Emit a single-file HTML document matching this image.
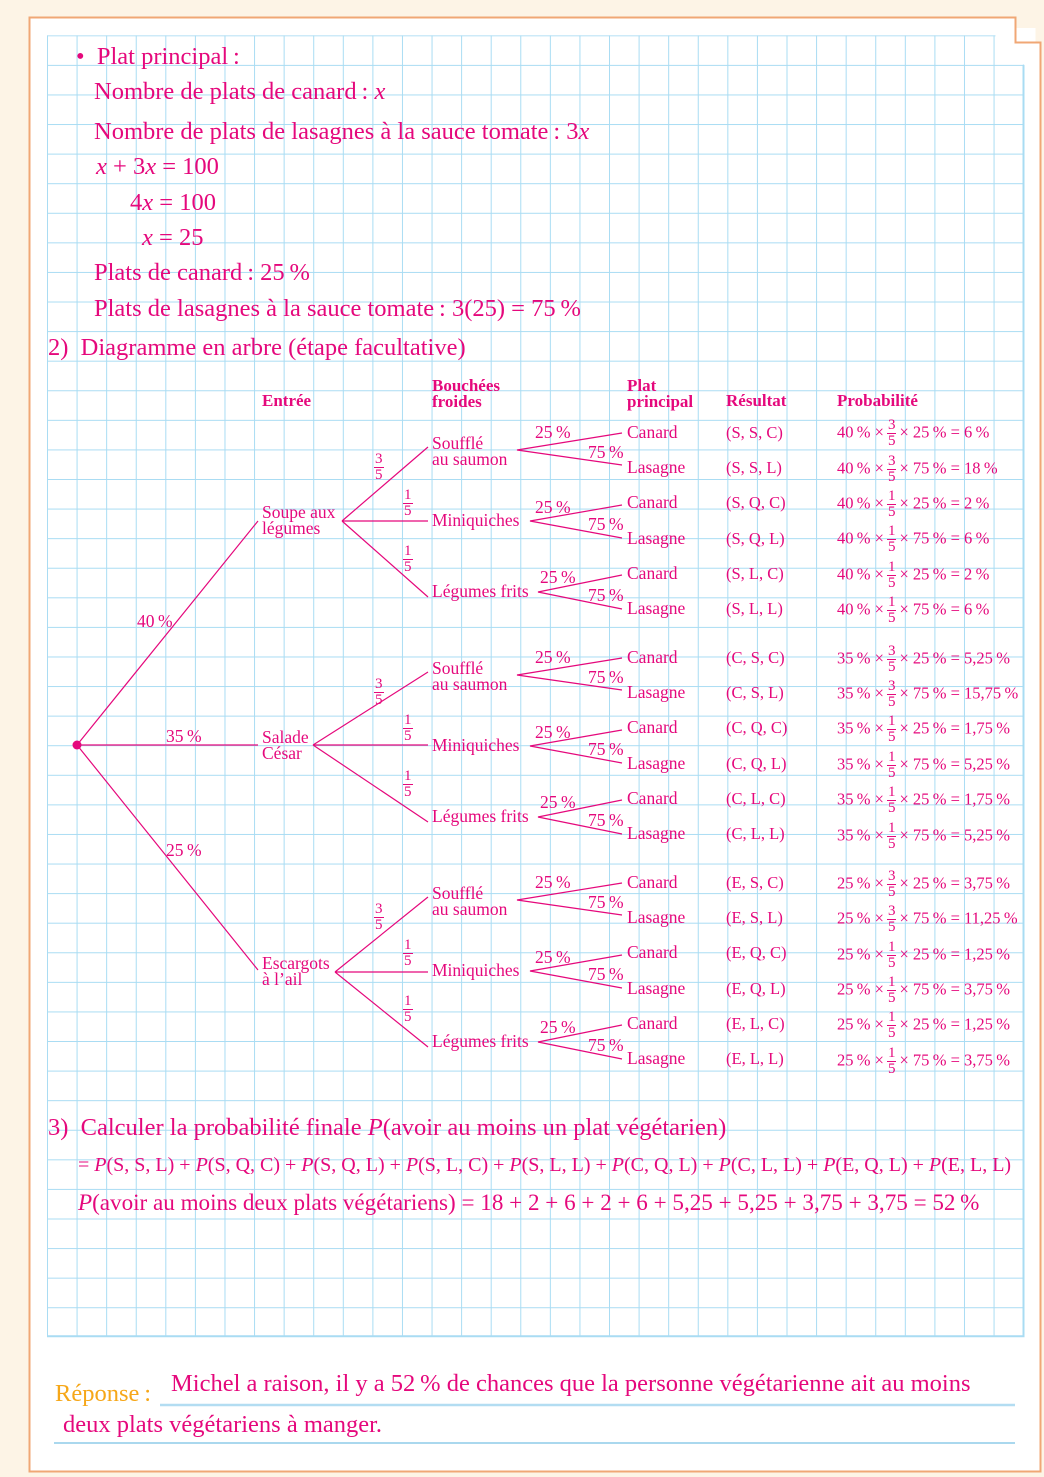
<!DOCTYPE html>
<html><head><meta charset="utf-8"><style>
body{margin:0;width:1044px;height:1477px;background:#fdf4e6;position:relative;overflow:hidden;font-family:"Liberation Serif",serif;color:#e5087c}
.t{position:absolute;white-space:nowrap;line-height:1}
.b{font-size:24.5px}
.s{font-size:17.5px}
.h{font-size:17px;font-weight:bold;line-height:16px}
.p{font-size:16.5px}
i{font-style:italic}
.f{display:inline-block;vertical-align:middle;text-align:center;font-size:15px;line-height:15px;margin:0 3px}
.f span{display:block;padding:0 1px;font-size:15px}
.f span:first-child{border-bottom:1px solid #e5087c}
</style></head><body>
<svg width="1044" height="1477" style="position:absolute;left:0;top:0">
<defs><pattern id="g" x="47" y="35.3" width="29.58" height="29.58" patternUnits="userSpaceOnUse"><path d="M0 0H29.58M0 0V29.58" stroke="#a9dcf3" stroke-width="2" fill="none"/></pattern></defs>
<path d="M29.5 17.5H1015.5V42.5H1040.5V1471.5H29.5Z" fill="#fff"/>
<rect x="47" y="35.3" width="976.5" height="1301" fill="url(#g)"/>
<rect x="995.5" y="28" width="40" height="36" fill="#fff"/>
<path d="M29.5 17.5H1015.5V42.5H1040.5V1471.5H29.5Z" fill="none" stroke="#f0a775" stroke-width="2"/>
<path d="M1023.5 64.9V1336.3H47" stroke="#a9dcf3" stroke-width="2" fill="none"/>
<line x1="160" y1="1405" x2="1015" y2="1405" stroke="#b3ddf2" stroke-width="2.5"/>
<line x1="54" y1="1443" x2="1015" y2="1443" stroke="#8ecbe9" stroke-width="1.5"/>
<g stroke="#e5087c" stroke-width="1.2" fill="none">
<path d="M77 745L258 521M77 745H258M77 745L258 970"/>
<path d="M342 521L428 447M342 521H428M342 521L428 597"/>
<path d="M313 745L428 672M313 745H428M313 745L428 822"/>
<path d="M335 972L428 897M335 972H428M335 972L428 1047"/>
<g id="l3">
<path d="M622 433L517 450L622 465M622 505L530 521L622 538M622 575L538 592L622 609"/>
</g>
<use href="#l3" y="225"/><use href="#l3" y="450"/>
</g>
<circle cx="77" cy="745" r="4.5" fill="#e5087c"/>
</svg>

<div class="t b" style="left:76px;top:45px">•&nbsp;&nbsp;Plat principal&#8239;:</div>
<div class="t b" style="left:94px;top:80px">Nombre de plats de canard&#8239;: <i>x</i></div>
<div class="t b" style="left:94px;top:120px">Nombre de plats de lasagnes à la sauce tomate&#8239;: 3<i>x</i></div>
<div class="t b" style="left:96px;top:155px"><i>x</i> + 3<i>x</i> = 100</div>
<div class="t b" style="left:130px;top:191px">4<i>x</i> = 100</div>
<div class="t b" style="left:142px;top:226px"><i>x</i> = 25</div>
<div class="t b" style="left:94px;top:261px">Plats de canard&#8239;: 25&#8239;%</div>
<div class="t b" style="left:94px;top:297px">Plats de lasagnes à la sauce tomate&#8239;: 3(25) = 75&#8239;%</div>
<div class="t b" style="left:48px;top:336px">2)&nbsp; Diagramme en arbre (étape facultative)</div>

<div class="t h" style="left:262px;top:393px">Entrée</div>
<div class="t h" style="left:432px;top:378px">Bouchées<br>froides</div>
<div class="t h" style="left:627px;top:378px">Plat<br>principal</div>
<div class="t h" style="left:726px;top:393px">Résultat</div>
<div class="t h" style="left:837px;top:393px">Probabilité</div>

<div class="t s" style="left:137px;top:613px">40&#8239;%</div>
<div class="t s" style="left:166px;top:728px">35&#8239;%</div>
<div class="t s" style="left:166px;top:842px">25&#8239;%</div>
<div class="t s" style="left:262px;top:504px;line-height:16px">Soupe aux<br>légumes</div>
<div class="t s" style="left:262px;top:729px;line-height:16px">Salade<br>César</div>
<div class="t s" style="left:262px;top:955px;line-height:16px">Escargots<br>à l’ail</div>

<div style="position:absolute;left:0;top:0">
<div class="t s" style="left:432px;top:435px;line-height:16px">Soufflé<br>au saumon</div>
<div class="t s" style="left:432px;top:512px">Miniquiches</div>
<div class="t s" style="left:432px;top:583px">Légumes frits</div>
<div class="t" style="left:371px;top:452px"><span class="f"><span>3</span><span>5</span></span></div>
<div class="t" style="left:400px;top:488px"><span class="f"><span>1</span><span>5</span></span></div>
<div class="t" style="left:400px;top:544px"><span class="f"><span>1</span><span>5</span></span></div>
<div class="t s" style="left:535px;top:424px">25&#8239;%</div><div class="t s" style="left:588px;top:444px">75&#8239;%</div>
<div class="t s" style="left:535px;top:499px">25&#8239;%</div><div class="t s" style="left:588px;top:516px">75&#8239;%</div>
<div class="t s" style="left:540px;top:569px">25&#8239;%</div><div class="t s" style="left:588px;top:587px">75&#8239;%</div>
<div class="t s" style="left:627px;top:424px">Canard</div><div class="t s" style="left:627px;top:459px">Lasagne</div>
<div class="t s" style="left:627px;top:494px">Canard</div><div class="t s" style="left:627px;top:530px">Lasagne</div>
<div class="t s" style="left:627px;top:565px">Canard</div><div class="t s" style="left:627px;top:600px">Lasagne</div>
</div>
<div style="position:absolute;left:0;top:225px">
<div class="t s" style="left:432px;top:435px;line-height:16px">Soufflé<br>au saumon</div>
<div class="t s" style="left:432px;top:512px">Miniquiches</div>
<div class="t s" style="left:432px;top:583px">Légumes frits</div>
<div class="t" style="left:371px;top:452px"><span class="f"><span>3</span><span>5</span></span></div>
<div class="t" style="left:400px;top:488px"><span class="f"><span>1</span><span>5</span></span></div>
<div class="t" style="left:400px;top:544px"><span class="f"><span>1</span><span>5</span></span></div>
<div class="t s" style="left:535px;top:424px">25&#8239;%</div><div class="t s" style="left:588px;top:444px">75&#8239;%</div>
<div class="t s" style="left:535px;top:499px">25&#8239;%</div><div class="t s" style="left:588px;top:516px">75&#8239;%</div>
<div class="t s" style="left:540px;top:569px">25&#8239;%</div><div class="t s" style="left:588px;top:587px">75&#8239;%</div>
<div class="t s" style="left:627px;top:424px">Canard</div><div class="t s" style="left:627px;top:459px">Lasagne</div>
<div class="t s" style="left:627px;top:494px">Canard</div><div class="t s" style="left:627px;top:530px">Lasagne</div>
<div class="t s" style="left:627px;top:565px">Canard</div><div class="t s" style="left:627px;top:600px">Lasagne</div>
</div>
<div style="position:absolute;left:0;top:450px">
<div class="t s" style="left:432px;top:435px;line-height:16px">Soufflé<br>au saumon</div>
<div class="t s" style="left:432px;top:512px">Miniquiches</div>
<div class="t s" style="left:432px;top:583px">Légumes frits</div>
<div class="t" style="left:371px;top:452px"><span class="f"><span>3</span><span>5</span></span></div>
<div class="t" style="left:400px;top:488px"><span class="f"><span>1</span><span>5</span></span></div>
<div class="t" style="left:400px;top:544px"><span class="f"><span>1</span><span>5</span></span></div>
<div class="t s" style="left:535px;top:424px">25&#8239;%</div><div class="t s" style="left:588px;top:444px">75&#8239;%</div>
<div class="t s" style="left:535px;top:499px">25&#8239;%</div><div class="t s" style="left:588px;top:516px">75&#8239;%</div>
<div class="t s" style="left:540px;top:569px">25&#8239;%</div><div class="t s" style="left:588px;top:587px">75&#8239;%</div>
<div class="t s" style="left:627px;top:424px">Canard</div><div class="t s" style="left:627px;top:459px">Lasagne</div>
<div class="t s" style="left:627px;top:494px">Canard</div><div class="t s" style="left:627px;top:530px">Lasagne</div>
<div class="t s" style="left:627px;top:565px">Canard</div><div class="t s" style="left:627px;top:600px">Lasagne</div>
</div>

<div class="t p" style="left:726px;top:425px">(S, S, C)</div>
<div class="t p" style="left:726px;top:460px">(S, S, L)</div>
<div class="t p" style="left:726px;top:495px">(S, Q, C)</div>
<div class="t p" style="left:726px;top:531px">(S, Q, L)</div>
<div class="t p" style="left:726px;top:566px">(S, L, C)</div>
<div class="t p" style="left:726px;top:601px">(S, L, L)</div>
<div class="t p" style="left:726px;top:650px">(C, S, C)</div>
<div class="t p" style="left:726px;top:685px">(C, S, L)</div>
<div class="t p" style="left:726px;top:720px">(C, Q, C)</div>
<div class="t p" style="left:726px;top:756px">(C, Q, L)</div>
<div class="t p" style="left:726px;top:791px">(C, L, C)</div>
<div class="t p" style="left:726px;top:826px">(C, L, L)</div>
<div class="t p" style="left:726px;top:875px">(E, S, C)</div>
<div class="t p" style="left:726px;top:910px">(E, S, L)</div>
<div class="t p" style="left:726px;top:945px">(E, Q, C)</div>
<div class="t p" style="left:726px;top:981px">(E, Q, L)</div>
<div class="t p" style="left:726px;top:1016px">(E, L, C)</div>
<div class="t p" style="left:726px;top:1051px">(E, L, L)</div>

<div class="t p" style="left:837px;top:418px">40&#8239;% ×<span class="f"><span>3</span><span>5</span></span>× 25&#8239;% = 6&#8239;%</div>
<div class="t p" style="left:837px;top:454px">40&#8239;% ×<span class="f"><span>3</span><span>5</span></span>× 75&#8239;% = 18&#8239;%</div>
<div class="t p" style="left:837px;top:489px">40&#8239;% ×<span class="f"><span>1</span><span>5</span></span>× 25&#8239;% = 2&#8239;%</div>
<div class="t p" style="left:837px;top:524px">40&#8239;% ×<span class="f"><span>1</span><span>5</span></span>× 75&#8239;% = 6&#8239;%</div>
<div class="t p" style="left:837px;top:560px">40&#8239;% ×<span class="f"><span>1</span><span>5</span></span>× 25&#8239;% = 2&#8239;%</div>
<div class="t p" style="left:837px;top:595px">40&#8239;% ×<span class="f"><span>1</span><span>5</span></span>× 75&#8239;% = 6&#8239;%</div>
<div class="t p" style="left:837px;top:644px">35&#8239;% ×<span class="f"><span>3</span><span>5</span></span>× 25&#8239;% = 5,25&#8239;%</div>
<div class="t p" style="left:837px;top:679px">35&#8239;% ×<span class="f"><span>3</span><span>5</span></span>× 75&#8239;% = 15,75&#8239;%</div>
<div class="t p" style="left:837px;top:714px">35&#8239;% ×<span class="f"><span>1</span><span>5</span></span>× 25&#8239;% = 1,75&#8239;%</div>
<div class="t p" style="left:837px;top:750px">35&#8239;% ×<span class="f"><span>1</span><span>5</span></span>× 75&#8239;% = 5,25&#8239;%</div>
<div class="t p" style="left:837px;top:785px">35&#8239;% ×<span class="f"><span>1</span><span>5</span></span>× 25&#8239;% = 1,75&#8239;%</div>
<div class="t p" style="left:837px;top:821px">35&#8239;% ×<span class="f"><span>1</span><span>5</span></span>× 75&#8239;% = 5,25&#8239;%</div>
<div class="t p" style="left:837px;top:869px">25&#8239;% ×<span class="f"><span>3</span><span>5</span></span>× 25&#8239;% = 3,75&#8239;%</div>
<div class="t p" style="left:837px;top:904px">25&#8239;% ×<span class="f"><span>3</span><span>5</span></span>× 75&#8239;% = 11,25&#8239;%</div>
<div class="t p" style="left:837px;top:940px">25&#8239;% ×<span class="f"><span>1</span><span>5</span></span>× 25&#8239;% = 1,25&#8239;%</div>
<div class="t p" style="left:837px;top:975px">25&#8239;% ×<span class="f"><span>1</span><span>5</span></span>× 75&#8239;% = 3,75&#8239;%</div>
<div class="t p" style="left:837px;top:1010px">25&#8239;% ×<span class="f"><span>1</span><span>5</span></span>× 25&#8239;% = 1,25&#8239;%</div>
<div class="t p" style="left:837px;top:1046px">25&#8239;% ×<span class="f"><span>1</span><span>5</span></span>× 75&#8239;% = 3,75&#8239;%</div>

<div class="t b" style="left:48px;top:1116px">3)&nbsp; Calculer la probabilité finale <i>P</i>(avoir au moins un plat végétarien)</div>
<div class="t" style="left:78px;top:1155px;font-size:20px">= <i>P</i>(S, S, L) + <i>P</i>(S, Q, C) + <i>P</i>(S, Q, L) + <i>P</i>(S, L, C) + <i>P</i>(S, L, L) + <i>P</i>(C, Q, L) + <i>P</i>(C, L, L) + <i>P</i>(E, Q, L) + <i>P</i>(E, L, L)</div>
<div class="t" style="left:78px;top:1191px;font-size:23.1px"><i>P</i>(avoir au moins deux plats végétariens) = 18 + 2 + 6 + 2 + 6 + 5,25 + 5,25 + 3,75 + 3,75 = 52&#8239;%</div>

<div class="t b" style="left:55px;top:1382px;color:#f6a719">Réponse&#8239;:</div>
<div class="t b" style="left:171px;top:1372px">Michel a raison, il y a 52&#8239;% de chances que la personne végétarienne ait au moins</div>
<div class="t b" style="left:63px;top:1413px">deux plats végétariens à manger.</div>
</body></html>
